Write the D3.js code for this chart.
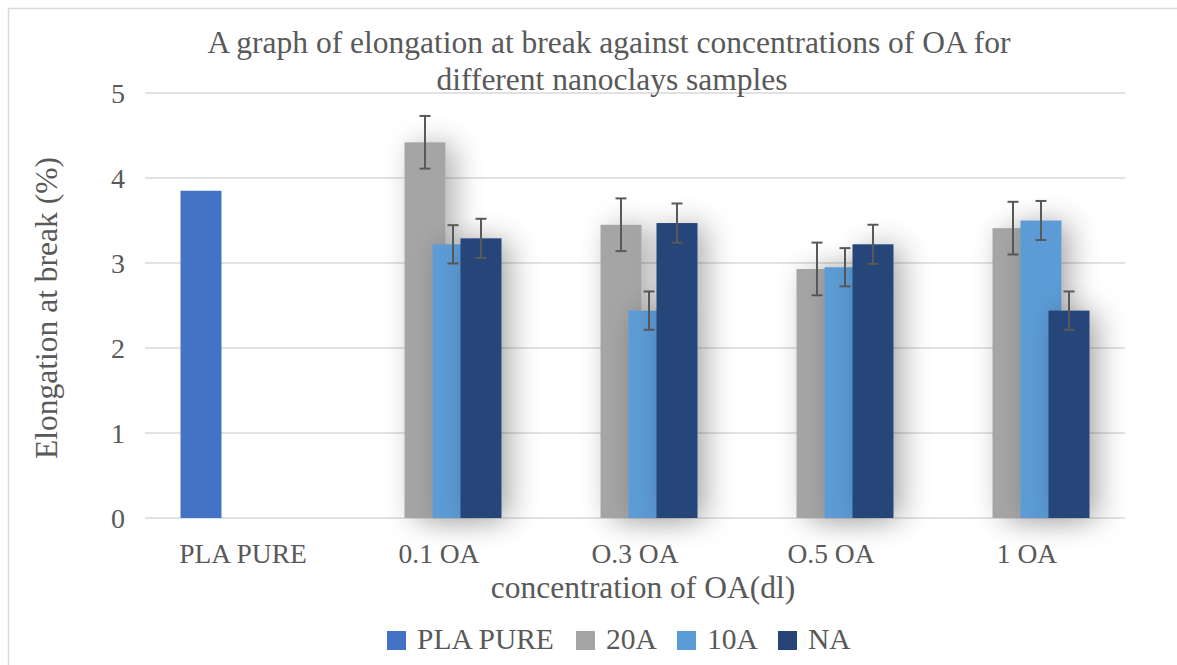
<!DOCTYPE html>
<html>
<head>
<meta charset="utf-8">
<script src="https://cdn.jsdelivr.net/npm/d3@7"></script>
<style>
  body { margin: 0; background: #fff; }
  svg text { font-family: 'Liberation Serif', 'Times New Roman', serif; fill: #595959; }
</style>
</head>
<body>
<svg id="chart" width="1177" height="665"></svg>
<script>
// data
const categories = ['PLA PURE', '0.1 OA', 'O.3 OA', 'O.5 OA', '1 OA'];
const seriesNames = ['PLA PURE', '20A', '10A', 'NA'];
const plaPure = [3.85, null, null, null, null];
const s20A = [null, 4.42, 3.45, 2.93, 3.41];
const s10A = [null, 3.22, 2.44, 2.95, 3.50];
const sNA = [null, 3.29, 3.47, 3.22, 2.44];
const err20A = [null, 0.31, 0.31, 0.31, 0.31];
const err10A = [null, 0.225, 0.225, 0.225, 0.23];
const errNA = [null, 0.23, 0.23, 0.23, 0.225];
const yTicks = [0, 1, 2, 3, 4, 5];

const colors = ['#4472C4', '#A5A5A5', '#5B9BD5', '#264478'];
const values = [plaPure, s20A, s10A, sNA];
const errors = [[], err20A, err10A, errNA];

const svg = d3.select('#chart');

const margin = {left: 145, right: 52, top: 93, bottom: 147};
const width = 1177 - margin.left - margin.right;
const height = 665 - margin.top - margin.bottom;

// outer frame
svg.append('rect')
    .attr('x', 8.5).attr('y', 8.5)
    .attr('width', 1180).attr('height', 680)
    .attr('fill', 'none')
    .attr('stroke', '#d9d9d9')
    .attr('stroke-width', 1.5);

const defs = svg.append('defs');
const shadow = defs.append('filter')
    .attr('id', 'shadow')
    .attr('x', '-100%').attr('y', '-40%')
    .attr('width', '300%').attr('height', '180%');
shadow.append('feGaussianBlur').attr('in', 'SourceAlpha').attr('stdDeviation', 15).attr('result', 'blur');
shadow.append('feOffset').attr('in', 'blur').attr('dx', 9).attr('dy', 2).attr('result', 'off');
shadow.append('feComponentTransfer').attr('in', 'off').attr('result', 'faded')
    .append('feFuncA').attr('type', 'linear').attr('slope', 0.32);
const merge = shadow.append('feMerge');
merge.append('feMergeNode').attr('in', 'faded');
merge.append('feMergeNode').attr('in', 'SourceGraphic');

const g = svg.append('g').attr('transform', `translate(${margin.left},${margin.top})`);

const x = d3.scaleBand().domain(categories).range([0, width]);
const y = d3.scaleLinear().domain([0, 5]).range([height, 0]);

// gridlines
g.append('g')
    .selectAll('line')
    .data(yTicks)
    .enter()
    .append('line')
    .attr('x1', 0).attr('x2', width)
    .attr('y1', d => y(d)).attr('y2', d => y(d))
    .attr('stroke', '#d9d9d9')
    .attr('stroke-width', 1.5);

// y tick labels
g.append('g')
    .selectAll('text')
    .data(yTicks)
    .enter()
    .append('text')
    .attr('x', -20)
    .attr('y', d => y(d))
    .attr('dy', '0.35em')
    .attr('text-anchor', 'end')
    .attr('font-size', 28)
    .text(d => d);

// bars: excel style overlapping cluster
const barW = 41;
const step = 28;
const clusterW = step * (seriesNames.length - 1) + barW;

seriesNames.forEach((name, si) => {
    const sg = g.append('g');
    const rows = categories.map((c, ci) => ({c, v: values[si][ci], e: errors[si][ci]}))
        .filter(d => d.v != null);
    const bx = d => x(d.c) + x.bandwidth() / 2 - clusterW / 2 + si * step;

    sg.selectAll('rect')
        .data(rows)
        .enter()
        .append('rect')
        .attr('x', bx)
        .attr('y', d => y(d.v))
        .attr('width', barW)
        .attr('height', d => y(0) - y(d.v))
        .attr('fill', colors[si])
        .attr('filter', si > 0 ? 'url(#shadow)' : null);

    const eb = sg.selectAll('g.err')
        .data(rows.filter(d => d.e != null))
        .enter()
        .append('g')
        .attr('class', 'err')
        .attr('stroke', '#595959')
        .attr('stroke-width', 2);
    const cx = d => bx(d) + barW / 2;
    eb.append('line')
        .attr('x1', cx).attr('x2', cx)
        .attr('y1', d => y(d.v + d.e)).attr('y2', d => y(d.v - d.e));
    eb.append('line')
        .attr('x1', d => cx(d) - 5.5).attr('x2', d => cx(d) + 5.5)
        .attr('y1', d => y(d.v + d.e)).attr('y2', d => y(d.v + d.e));
    eb.append('line')
        .attr('x1', d => cx(d) - 5.5).attr('x2', d => cx(d) + 5.5)
        .attr('y1', d => y(d.v - d.e)).attr('y2', d => y(d.v - d.e));
});

// x tick labels
g.append('g')
    .selectAll('text')
    .data(categories)
    .enter()
    .append('text')
    .attr('x', d => x(d) + x.bandwidth() / 2)
    .attr('y', height + 45)
    .attr('text-anchor', 'middle')
    .attr('font-size', 27.5)
    .text(d => d);

// axis titles
svg.append('text')
    .attr('x', 643).attr('y', 598)
    .attr('text-anchor', 'middle')
    .attr('font-size', 31.5)
    .text('concentration of OA(dl)');

svg.append('text')
    .attr('transform', 'translate(57,308) rotate(-90)')
    .attr('text-anchor', 'middle')
    .attr('font-size', 31.5)
    .text('Elongation at break (%)');

// title
const title = svg.append('text')
    .attr('text-anchor', 'middle')
    .attr('font-size', 31.5);
title.append('tspan').attr('x', 609).attr('y', 53)
    .text('A graph of elongation at break against concentrations of OA for');
title.append('tspan').attr('x', 612).attr('y', 90)
    .text('different nanoclays samples');

// legend
const legendX = [387, 576, 677, 778];
const legend = svg.append('g')
    .selectAll('g')
    .data(seriesNames)
    .enter()
    .append('g')
    .attr('transform', (d, i) => `translate(${legendX[i]},631)`);
legend.append('rect')
    .attr('width', 19).attr('height', 19)
    .attr('fill', (d, i) => colors[i]);
legend.append('text')
    .attr('x', 30).attr('y', 18)
    .attr('font-size', 29.5)
    .text(d => d);
</script>
</body>
</html>
